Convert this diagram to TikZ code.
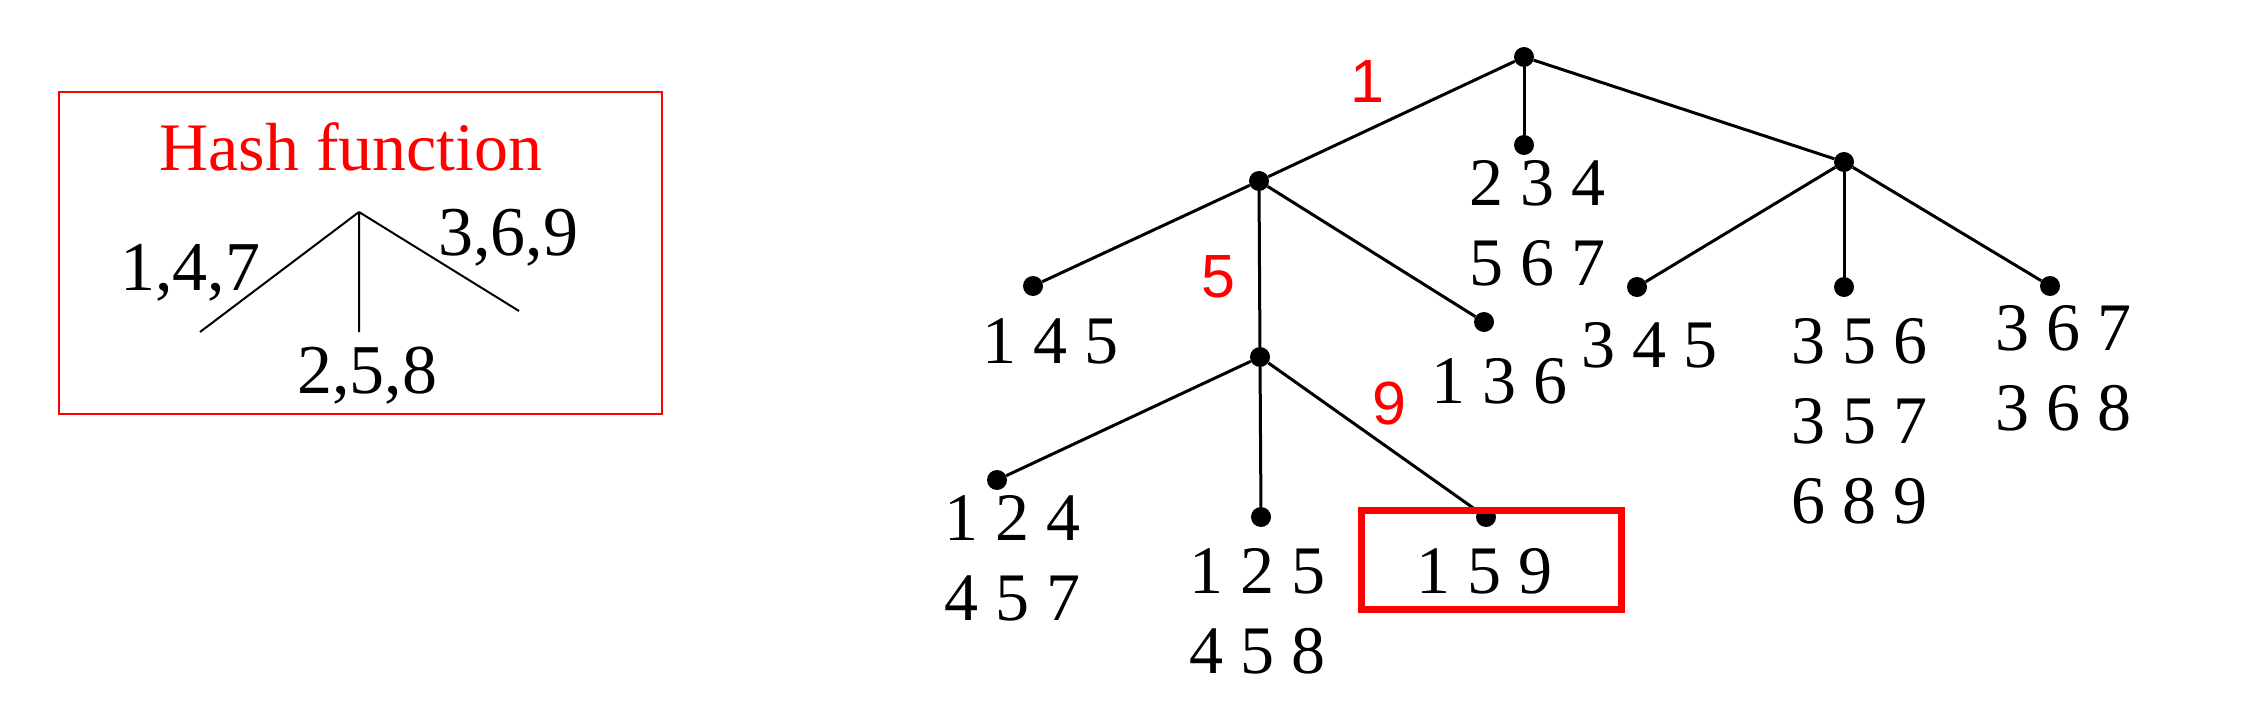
\documentclass[tikz,border=0pt]{standalone}
\usepackage{fontspec}
\setmainfont{Liberation Serif}
\newfontfamily\redsans{Liberation Sans}
\begin{document}
\begin{tikzpicture}[x=1pt,y=-1pt,
  dot/.style={circle,fill=black,inner sep=0pt,minimum size=20pt},
  edge/.style={line width=3pt},
  leaf/.style={anchor=north west,inner sep=0pt,align=left,font=\fontsize{68}{80}\selectfont},
  lbl/.style={text=red,inner sep=0pt,font=\redsans\fontsize{61}{61}\selectfont},
  hashnum/.style={anchor=base west,inner sep=0pt,font=\fontsize{70}{70}\selectfont},
]
\useasboundingbox (0,0) rectangle (2242,706);

% Hash function box
\node[draw=red,line width=2pt,minimum width=603pt,minimum height=322pt,anchor=north west,inner sep=0pt] (hashbox) at (58,91) {};
\node[anchor=base,text=red,inner sep=0pt,font=\fontsize{68}{68}\selectfont] (title) at (351,170) {Hash function};
\coordinate (h0) at (359,212);
\coordinate (h1) at (200,332);
\coordinate (h2) at (359,332);
\coordinate (h3) at (519,311);
\draw[line width=2pt] (h0) -- (h1) (h0) -- (h2) (h0) -- (h3);
\node[hashnum] (t147) at (120,290) {1,4,7};
\node[hashnum] (t369) at (438,255) {3,6,9};
\node[hashnum] (t258) at (297,393) {2,5,8};

% Tree dots
\node[dot] (root) at (1524,57) {};
\node[dot] (L1) at (1259,181) {};
\node[dot] (R1) at (1844,162) {};
\node[dot] (m234) at (1524,145) {};
\node[dot] (l145) at (1033,286) {};
\node[dot] (l136) at (1484,322) {};
\node[dot] (L2) at (1260,357) {};
\node[dot] (l345) at (1637,287) {};
\node[dot] (l356) at (1844,287) {};
\node[dot] (l367) at (2050,286) {};
\node[dot] (l124) at (997,480) {};
\node[dot] (l125) at (1261,517) {};
\node[dot] (l159) at (1486,517) {};

% Edges
\draw[edge] (root) -- (L1);
\draw[edge] (root) -- (m234);
\draw[edge] (root) -- (R1);
\draw[edge] (L1) -- (l145);
\draw[edge] (L1) -- (L2);
\draw[edge] (L1) -- (l136);
\draw[edge] (R1) -- (l345);
\draw[edge] (R1) -- (l356);
\draw[edge] (R1) -- (l367);
\draw[edge] (L2) -- (l124);
\draw[edge] (L2) -- (l125);
\draw[edge] (L2) -- (l159);

% Red edge labels
\node[lbl] (e1) at (1367,82) {1};
\node[lbl] (e5) at (1218,277) {5};
\node[lbl] (e9) at (1389,403) {9};

% Leaf contents
\node[leaf] (t234) at (1469,160) {2 3 4\\5 6 7};
\node[leaf] (t145) at (982,318) {1 4 5};
\node[leaf] (t136) at (1431,358) {1 3 6};
\node[leaf] (t345) at (1581,322) {3 4 5};
\node[leaf] (t356) at (1791,318) {3 5 6\\3 5 7\\6 8 9};
\node[leaf] (t367) at (1995,305) {3 6 7\\3 6 8};
\node[leaf] (t124) at (944,495) {1 2 4\\4 5 7};
\node[leaf] (t125) at (1189,548) {1 2 5\\4 5 8};
\node[leaf] (t159) at (1416,548) {1 5 9};

% Highlight box
\node[draw=red,line width=7pt,minimum width=260pt,minimum height=99pt,anchor=north west,inner sep=0pt] (hl) at (1358,507) {};
\end{tikzpicture}
\end{document}
